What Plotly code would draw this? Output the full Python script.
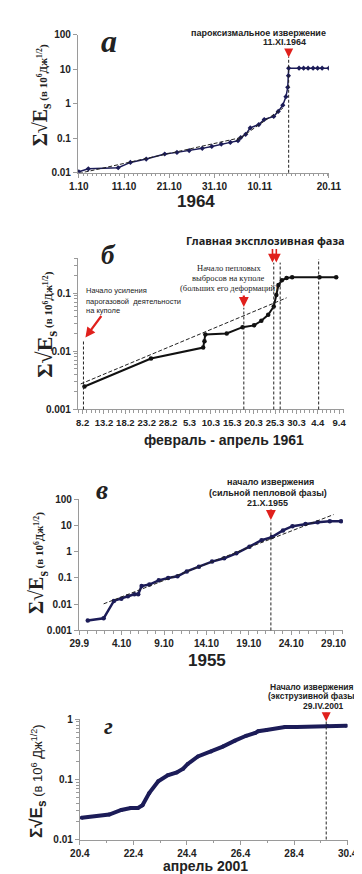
import plotly.graph_objects as go

W, H = 362, 874

# ---------------- DATA ----------------
# Panel a (1964): days since 1.10 (axis units), cumulative values
a_days = [0, 2.1, 8.7, 11.4, 14.9, 19.0, 21.7, 24.4, 27.3, 29.4, 31.5, 33.5, 35.2, 35.8,
          36.9, 37.9, 39.8, 41.0, 43.1, 44.1, 45.1, 45.8, 46.2, 46.35, 46.4,
          48.7, 49.7, 50.7, 51.8, 52.8, 53.8, 55.3]
a_vals = [0.0107, 0.013, 0.014, 0.02, 0.025, 0.035, 0.039, 0.044, 0.051, 0.058, 0.068, 0.076, 0.085, 0.105,
          0.13, 0.2, 0.25, 0.35, 0.43, 0.6, 0.91, 1.6, 3.0, 6.5, 10.7,
          10.7, 10.7, 10.7, 10.7, 10.7, 10.7, 10.7]
a_trend1_days = [0, 36.2]
a_trend1_vals = [0.0096, 0.107]
a_trend2_days = [34.8, 45.1]
a_trend2_vals = [0.085, 0.74]
a_erupt = 46.4
a_tickvals = [0, 10, 20, 30, 40, 55.3]
a_ticktext = ["1.10", "11.10", "21.10", "31.10", "10.11", "20.11"]

# Panel б (1961): days since 8.2
b_days = [0.44, 16.0, 28.2, 28.5, 28.7, 33.7, 37.4, 40.1, 41.8, 43.4, 44.7, 45.3, 45.8, 46.6,
          47.7, 49.0, 55.4, 59.3]
b_vals = [0.00248, 0.0075, 0.0116, 0.0149, 0.0194, 0.0202, 0.026, 0.0279, 0.0335, 0.0425, 0.059,
          0.093, 0.138, 0.166, 0.182, 0.188, 0.188, 0.188]
b_trend_days = [-0.44, 47.7]
b_trend_vals = [0.00275, 0.083]
b_marks = [0.2, 37.7, 44.7, 46.2, 55.2]
b_mark_tops = [0.45, 0.67, 0.967, 0.967, 0.99]
b_tickvals = [0, 5, 10, 15, 20, 25, 30, 35, 40, 45, 50, 55, 60]
b_ticktext = ["8.2", "13.2", "18.2", "23.2", "28.2", "5.3", "10.3", "15.3", "20.3", "25.3",
              "30.3", "4.4", "9.4"]

# Panel в (1955): days since 29.9
c_days = [1.0, 2.87, 4.08, 4.96, 5.73, 6.5, 6.95, 7.35, 8.27, 9.37, 10.48, 11.58, 12.68, 14.11,
          15.66, 17.09, 18.52, 20.07, 21.5, 22.71, 24.03, 25.14, 26.68, 28.11, 29.55, 30.87]
c_vals = [0.0024, 0.0029, 0.0133, 0.016, 0.02, 0.024, 0.024, 0.049, 0.056, 0.081, 0.1, 0.115,
          0.177, 0.27, 0.42, 0.56, 0.87, 1.55, 2.75, 3.6, 6.5, 9.4, 11.5, 13.3, 14.5, 14.5]
c_trend_days = [2.87, 29.99]
c_trend_vals = [0.0103, 26]
c_erupt = 22.6
c_tickvals = [0, 5, 10, 15, 20, 25, 30]
c_ticktext = ["29.9", "4.10", "9.10", "14.10", "19.10", "24.10", "29.10"]

# Panel г (2001): days since 20.4
d_days = [0.07, 1.1, 1.55, 1.9, 2.17, 2.34, 2.59, 2.93, 3.28, 3.62, 3.86, 4.03, 4.41, 4.9, 5.34,
          5.79, 6.21, 6.55, 6.66, 6.97, 7.66, 8.1, 9.24, 9.95]
d_vals = [0.023, 0.026, 0.031, 0.0335, 0.0335, 0.037, 0.059, 0.093, 0.117, 0.13, 0.15, 0.18,
          0.24, 0.29, 0.35, 0.44, 0.53, 0.59, 0.63, 0.66, 0.74, 0.74, 0.77, 0.78]
d_erupt = 9.2
d_tickvals = [0, 2, 4, 6, 8, 10]
d_ticktext = ["20.4", "22.4", "24.4", "26.4", "28.4", "30.4"]

# ---------------- STYLE / LAYOUT ----------------
NAVY = "#1c1c58"
RED = "#e0201c"
AXC = "#9a9a9a"
SANS = "Liberation Sans, Arial, sans-serif"
SERIF = "Liberation Serif, Times New Roman, serif"


def dx(p0, p1):
    return [p0 / W, p1 / W]


def dy(top, bottom):
    return [1 - bottom / H, 1 - top / H]


def px(p):
    return p / W


def py(p):
    return 1 - p / H


fig = go.Figure()

fig.add_trace(go.Scatter(x=a_days, y=a_vals, mode="lines+markers", xaxis="x", yaxis="y",
                         line=dict(color=NAVY, width=1.5), marker=dict(size=4, color=NAVY, symbol="diamond")))
for tx, tv in [(a_trend1_days, a_trend1_vals), (a_trend2_days, a_trend2_vals)]:
    fig.add_trace(go.Scatter(x=tx, y=tv, mode="lines", xaxis="x", yaxis="y",
                             line=dict(color="#222", width=1, dash="4px,2px")))

fig.add_trace(go.Scatter(x=b_days, y=b_vals, mode="lines+markers", xaxis="x2", yaxis="y2",
                         line=dict(color="#111", width=2), marker=dict(size=4.5, color="#111")))
fig.add_trace(go.Scatter(x=b_trend_days, y=b_trend_vals, mode="lines", xaxis="x2", yaxis="y2",
                         line=dict(color="#222", width=1, dash="4px,2px")))

fig.add_trace(go.Scatter(x=c_days, y=c_vals, mode="lines+markers", xaxis="x3", yaxis="y3",
                         line=dict(color=NAVY, width=2.5), marker=dict(size=4.5, color=NAVY)))
fig.add_trace(go.Scatter(x=c_trend_days, y=c_trend_vals, mode="lines", xaxis="x3", yaxis="y3",
                         line=dict(color="#222", width=1, dash="4px,2px")))

fig.add_trace(go.Scatter(x=d_days, y=d_vals, mode="lines+markers", xaxis="x4", yaxis="y4",
                         line=dict(color=NAVY, width=4), marker=dict(size=4, color=NAVY)))

tickfont = dict(family=SANS, size=10, color="#222", weight="bold")


def xax(domain, rng, tv, tt, anchor, size=10):
    return dict(domain=domain, range=rng, anchor=anchor, tickmode="array", tickvals=tv, ticktext=tt,
                showline=True, linecolor=AXC, linewidth=1, ticks="outside", ticklen=4, tickcolor=AXC,
                showgrid=False, zeroline=False, tickfont=dict(tickfont, size=size),
                minor=dict(ticks="outside", ticklen=2.5, tickcolor=AXC, dtick=1, tick0=0, showgrid=False))


def yax(domain, rng, tv, anchor, minor=False):
    d = dict(domain=domain, range=rng, type="log", anchor=anchor, tickmode="array",
             tickvals=tv, ticktext=[("%g" % v) for v in tv],
             showline=True, linecolor=AXC, linewidth=1, ticks="outside", ticklen=4, tickcolor=AXC,
             showgrid=False, zeroline=False, tickfont=tickfont)
    if minor:
        d["minor"] = dict(ticks="outside", ticklen=2.5, tickcolor=AXC, showgrid=False, dtick="D1")
    return d


fig.update_layout(
    width=W, height=H, margin=dict(l=0, r=0, t=0, b=0),
    paper_bgcolor="white", plot_bgcolor="white", showlegend=False,
    xaxis=xax(dx(64, 332), [-0.2, 55.3], a_tickvals, a_ticktext, "y"),
    yaxis=yax(dy(21, 161), [-2, 2], [0.01, 0.1, 1, 10, 100], "x"),
    xaxis2=xax(dx(64, 348), [-1.09, 61.1], b_tickvals, b_ticktext, "y2", size=9.5),
    yaxis2=yax(dy(247, 401), [-3, -0.39], [0.001, 0.01, 0.1], "x2", minor=True),
    xaxis3=xax(dx(65, 347), [-0.05, 31.1], c_tickvals, c_ticktext, "y3"),
    yaxis3=yax(dy(492, 625), [-3, 2], [0.001, 0.01, 0.1, 1, 10, 100], "x3"),
    xaxis4=xax(dx(66, 352), [0, 10], d_tickvals, d_ticktext, "y4"),
    yaxis4=yax(dy(715, 837), [-2, 0], [0.01, 0.1, 1], "x4", minor=True),
)

shapes = []


def vline(xref, yref, xv, top):
    shapes.append(dict(type="line", xref=xref, yref=yref + " domain", x0=xv, x1=xv, y0=0, y1=top,
                       line=dict(color="#222", width=1, dash="3px,2px")))


vline("x", "y", a_erupt, 0.84)
for m, t in zip(b_marks, b_mark_tops):
    vline("x2", "y2", m, t)
vline("x3", "y3", c_erupt, 0.84)
vline("x4", "y4", d_erupt, 1.0)
fig.update_layout(shapes=shapes)

ann = []


def text(x, y, s, size, family=SANS, bold=True, italic=False, xanchor="center", color="#222", xref="paper"):
    ann.append(dict(x=x, y=y, xref=xref, yref="paper", text=s, showarrow=False, xanchor=xanchor,
                    yanchor="middle", align="center" if xanchor == "center" else "left",
                    font=dict(family=family, size=size, color=color,
                              weight="bold" if bold else "normal",
                              style="italic" if italic else "normal")))


def arrow(x, xref, ytip, length, width=2.0, size=0.9, dxp=0):
    ann.append(dict(x=x, y=py(ytip), xref=xref, yref="paper", text="", showarrow=True,
                    ax=dxp, ay=-length, arrowhead=2, arrowsize=size, arrowwidth=width, arrowcolor=RED))


# panel letters
text(px(97), py(27), "a", 32, SERIF, True, True)
text(px(97), py(244), "б", 27, SERIF, True, True)
text(px(90), py(483), "в", 27, SERIF, True, True)
text(px(97), py(722), "г", 24, SERIF, True, True)

# x titles
text(px(190), py(190), "1964", 17)
text(px(220), py(432), "февраль - апрель 1961", 14)
text(px(202), py(655), "1955", 17)
text(px(200), py(864), "апрель 2001", 14)

# y titles
ytitle_serif = ('<b>Σ√E<sub>s</sub></b><span style="font-size:11px"><b> (в 10<sup>6</sup>Дж<sup>1/2</sup>)</b></span>')
for xc, yc, fs in [(25, 82, 20), (30, 315, 22), (21, 557, 20)]:
    ann.append(dict(x=px(xc), y=py(yc), xref="paper", yref="paper", text=ytitle_serif, showarrow=False,
                    textangle=-90, xanchor="center", yanchor="middle",
                    font=dict(family=SERIF, size=fs, color="#222")))
ann.append(dict(x=px(22), y=py(778), xref="paper", yref="paper",
                text='<b><span style="font-size:17px">Σ√E<sub>s</sub></span></b> (в 10<sup>6</sup> Дж<sup>1/2</sup>)',
                showarrow=False, textangle=-90, xanchor="center", yanchor="middle",
                font=dict(family=SANS, size=13, color="#222")))

# panel a annotation
text(px(257), py(19), "пароксизмальное извержение", 9)
text(px(285), py(28), "11.XI.1964", 9)
arrow(a_erupt, "x", 44, 10)

# panel б annotations
text(px(351), py(230), "Главная эксплозивная фаза", 11, "Noto Sans", xanchor="right")
arrow(b_marks[2] - 0.3, "x2", 252, 15, width=1.6, size=1.1)
arrow(b_marks[2] + 0.6, "x2", 252, 15, width=1.6, size=1.1)
text(px(225), py(258), "Начало пепловых", 8.5, SERIF, False)
text(px(225), py(268), "выбросов на куполе", 8.5, SERIF, False)
text(px(225), py(278), "(больших его деформаций)", 8.5, SERIF, False)
arrow(b_marks[1], "x2", 297, 13, width=2.2, size=0.9)
text(px(71), py(280), "Начало усиления", 7.5, SANS, False, xanchor="left")
text(px(71), py(291), "парогазовой  деятельности", 7.5, SANS, False, xanchor="left")
text(px(71), py(301), "на куполе", 7.5, SANS, False, xanchor="left")
ann.append(dict(x=px(72), y=py(328), xref="paper", yref="paper", text="", showarrow=True,
                ax=17, ay=-23, arrowhead=2, arrowsize=0.9, arrowwidth=2.2, arrowcolor=RED))

# panel в annotations
text(px(270), py(475), "начало извержения", 9)
text(px(267), py(486), "(сильной пепловой фазы)", 9)
text(px(266), py(496), "21.X.1955", 9)
arrow(c_erupt, "x3", 513, 12, width=2.2, size=0.9)

# panel г annotations
text(px(314), py(682), "Начало извержения", 8.5)
text(px(315), py(692), "(экструзивной фазы)", 8.5)
text(px(326), py(702), "29.IV.2001", 8.5)
arrow(d_erupt, "x4", 717, 10, width=2, size=0.9)

fig.update_layout(annotations=ann)
fig.write_html("out.html")
